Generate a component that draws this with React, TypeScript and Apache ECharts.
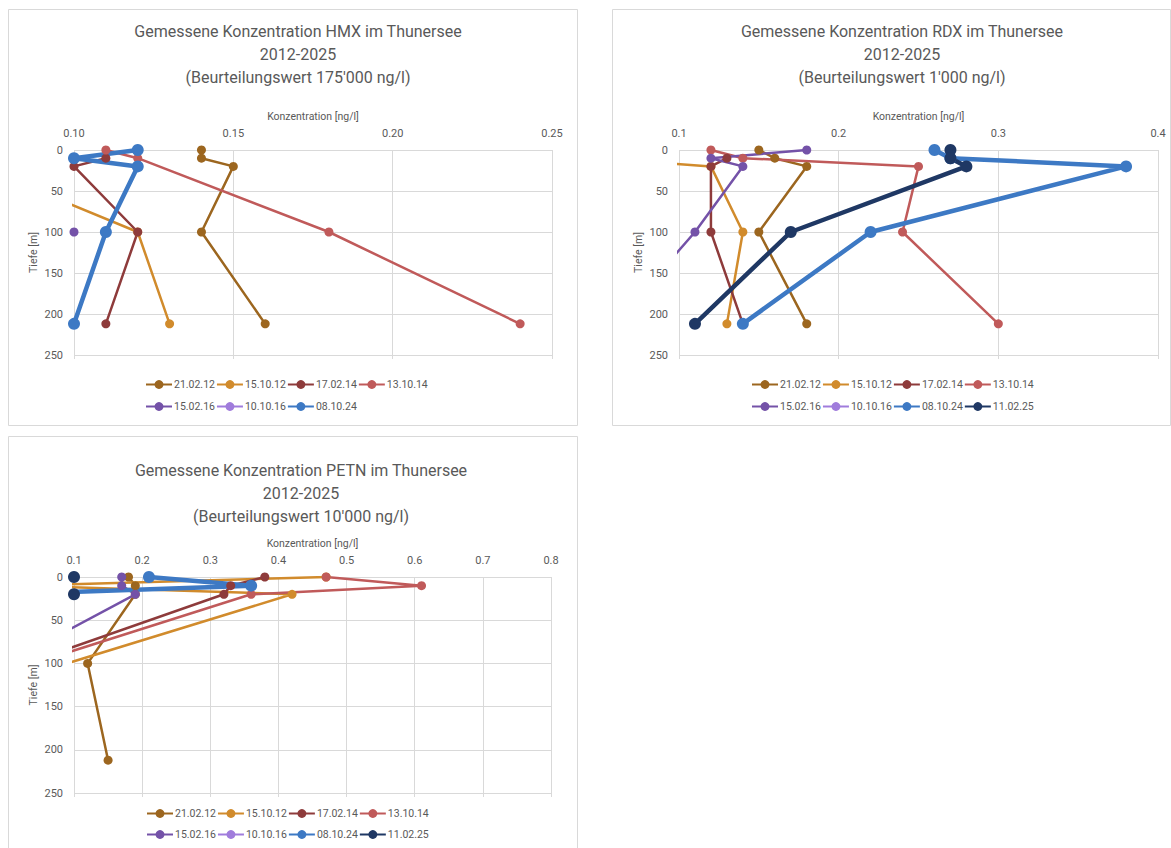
import React, { useEffect, useRef } from "react";
import * as echarts from "echarts";

// Depths of the sampling points [m]
const DEPTHS = [0, 10, 20, 100, 212];

const NAMES = ["21.02.12", "15.10.12", "17.02.14", "13.10.14", "15.02.16", "10.10.16", "08.10.24", "11.02.25"];
const COLORS = ["#9c661f", "#d18b2c", "#8e3b3b", "#c05a5a", "#7452a8", "#a07cdc", "#3d79c4", "#1f3864"];
const THICK = [false, false, false, false, false, false, true, true];

// HMX concentrations [ng/l] per depth (null = no point)
const HMX_210212 = [0.14, 0.14, 0.15, 0.14, 0.16];
const HMX_151012 = [null, null, 0.07, 0.12, 0.13];
const HMX_170214 = [null, 0.11, 0.1, 0.12, 0.11];
const HMX_131014 = [0.11, 0.12, null, 0.18, 0.24];
const HMX_150216 = [null, null, null, 0.1, null];
const HMX_101016 = [null, null, null, null, null];
const HMX_081024 = [0.12, 0.1, 0.12, 0.11, 0.1];

// RDX concentrations [ng/l]
const RDX_210212 = [0.15, 0.16, 0.18, 0.15, 0.18];
const RDX_151012 = [null, 0.05, 0.12, 0.14, 0.13];
const RDX_170214 = [null, 0.13, 0.12, 0.12, 0.14];
const RDX_131014 = [0.12, 0.14, 0.25, 0.24, 0.3];
const RDX_150216 = [0.18, 0.12, 0.14, 0.11, 0.06];
const RDX_101016 = [null, null, null, null, null];
const RDX_081024 = [0.26, 0.27, 0.38, 0.22, 0.14];
const RDX_110225 = [0.27, 0.27, 0.28, 0.17, 0.11];

// PETN concentrations [ng/l]
const PETN_210212 = [0.18, 0.19, 0.19, 0.12, 0.15];
const PETN_151012 = [0.47, 0.03, 0.42, 0.09, 0.05];
const PETN_170214 = [0.38, 0.33, 0.32, 0.03, null];
const PETN_131014 = [0.47, 0.61, 0.36, 0.04, null];
const PETN_150216 = [0.17, 0.17, 0.19, 0.0, null];
const PETN_101016 = [null, null, null, null, null];
const PETN_081024 = [0.21, 0.36, 0.0, null, null];
const PETN_110225 = [0.1, 0.0, 0.1, null, null];

const HMX_SETS = [HMX_210212, HMX_151012, HMX_170214, HMX_131014, HMX_150216, HMX_101016, HMX_081024];
const RDX_SETS = [RDX_210212, RDX_151012, RDX_170214, RDX_131014, RDX_150216, RDX_101016, RDX_081024, RDX_110225];
const PETN_SETS = [PETN_210212, PETN_151012, PETN_170214, PETN_131014, PETN_150216, PETN_101016, PETN_081024, PETN_110225];

const TITLES = [
  "Gemessene Konzentration HMX im Thunersee\n2012-2025\n(Beurteilungswert 175'000 ng/l)",
  "Gemessene Konzentration RDX im Thunersee\n2012-2025\n(Beurteilungswert 1'000 ng/l)",
  "Gemessene Konzentration PETN im Thunersee\n2012-2025\n(Beurteilungswert 10'000 ng/l)",
];
const X_MIN = [0.1, 0.1, 0.1];
const X_MAX = [0.25, 0.4, 0.8];
const X_STEP = [0.05, 0.1, 0.1];
const X_DEC = [2, 1, 1];

const FONT = "Roboto, 'Liberation Sans', sans-serif";
const TXT = "#595959";
const GRIDC = "#d9d9d9";

function App() {
  const ref = useRef<HTMLDivElement>(null);
  useEffect(() => {
    if (!ref.current) return;
    const chart = echarts.init(ref.current, undefined, { renderer: "svg" });

    const grids = [
      { left: 74, top: 150, width: 478, height: 205 },
      { left: 679, top: 150, width: 479, height: 205 },
      { left: 74, top: 577, width: 477, height: 216 },
    ];
    const titlePos = [
      { left: 293, top: 15 },
      { left: 897, top: 15 },
      { left: 296, top: 454 },
    ];
    const legendPos = [
      { left: 145, top1: 379, top2: 401 },
      { left: 751, top1: 379, top2: 401 },
      { left: 146, top1: 808, top2: 829 },
    ];
    const sets = [HMX_SETS, RDX_SETS, PETN_SETS];

    const xAxes: any[] = [];
    const yAxes: any[] = [];
    const series: any[] = [];
    const titles: any[] = [];
    const legends: any[] = [];

    grids.forEach((g, gi) => {
      const dec = X_DEC[gi];
      xAxes.push({
        type: "value",
        gridIndex: gi,
        position: "top",
        min: X_MIN[gi],
        max: X_MAX[gi],
        interval: X_STEP[gi],
        name: "Konzentration [ng/l]",
        nameLocation: "middle",
        nameGap: 28,
        nameTextStyle: { color: TXT, fontSize: 10.5, fontFamily: FONT },
        axisLine: { show: false },
        axisTick: { show: false },
        axisLabel: {
          color: TXT,
          fontSize: 11,
          fontFamily: FONT,
          margin: 11,
          formatter: (v: number) => v.toFixed(dec),
        },
        splitLine: { show: true, lineStyle: { color: GRIDC, width: 1 } },
      });
      xAxes.push({
        type: "value",
        gridIndex: gi,
        position: "bottom",
        min: X_MIN[gi],
        max: X_MAX[gi],
        interval: X_STEP[gi],
        axisLine: { show: false },
        axisTick: { show: true, length: 4, lineStyle: { color: GRIDC } },
        axisLabel: { show: false },
        splitLine: { show: false },
      });
      yAxes.push({
        type: "value",
        gridIndex: gi,
        inverse: true,
        min: 0,
        max: 250,
        interval: 50,
        name: "Tiefe [m]",
        nameLocation: "middle",
        nameGap: 35,
        nameRotate: 90,
        nameTextStyle: { color: TXT, fontSize: 10.5, fontFamily: FONT },
        axisLine: { show: false },
        axisTick: { show: false },
        axisLabel: { color: TXT, fontSize: 11, fontFamily: FONT, margin: 11 },
        splitLine: { show: true, lineStyle: { color: GRIDC, width: 1 } },
      });
      titles.push({
        text: TITLES[gi],
        left: titlePos[gi].left,
        top: titlePos[gi].top,
        textAlign: "center",
        textStyle: { color: TXT, fontSize: 16, fontWeight: "normal", fontFamily: FONT, lineHeight: 23 },
      });

      const s = sets[gi];
      const names = NAMES.slice(0, s.length);
      s.forEach((vals, si) => {
        const data = DEPTHS.map((d, i) => (vals[i] == null ? null : [vals[i], d])).filter((p) => p != null);
        series.push({
          type: "line",
          name: NAMES[si],
          xAxisIndex: gi * 2,
          yAxisIndex: gi,
          data,
          color: COLORS[si],
          symbol: "circle",
          symbolSize: THICK[si] ? 12 : 9,
          showSymbol: true,
          lineStyle: { width: THICK[si] ? 4.5 : 2.5, color: COLORS[si] },
          itemStyle: { color: COLORS[si] },
          clip: true,
        });
      });
      const legendBase = {
        orient: "horizontal",
        left: legendPos[gi].left,
        padding: 0,
        itemWidth: 26,
        itemHeight: 11,
        itemGap: 1,
        selectedMode: false,
        textStyle: { color: TXT, fontSize: 10.5, fontFamily: FONT, padding: [0, 0, 0, -3] },
      };
      legends.push({ ...legendBase, top: legendPos[gi].top1, data: names.slice(0, 4) });
      legends.push({ ...legendBase, top: legendPos[gi].top2, data: names.slice(4) });
    });

    const border = (x: number, y: number, w: number, h: number) => ({
      type: "rect",
      shape: { x, y, width: w, height: h },
      style: { fill: "none", stroke: GRIDC, lineWidth: 1 },
      silent: true,
      z: -10,
    });

    chart.setOption({
      animation: false,
      backgroundColor: "#ffffff",
      title: titles,
      legend: legends,
      grid: grids,
      xAxis: xAxes,
      yAxis: yAxes,
      series,
      graphic: [border(8.5, 9.5, 569, 416), border(612.5, 9.5, 558, 416), border(8.5, 436.5, 569, 430)],
    });
    return () => chart.dispose();
  }, []);

  return (
    <div
      style={{ position: "absolute", left: 0, top: 0, width: 1171, height: 848, overflow: "hidden", background: "#fff" }}
    >
      <div ref={ref} style={{ width: 1171, height: 848 }} />
    </div>
  );
}

export default App;
